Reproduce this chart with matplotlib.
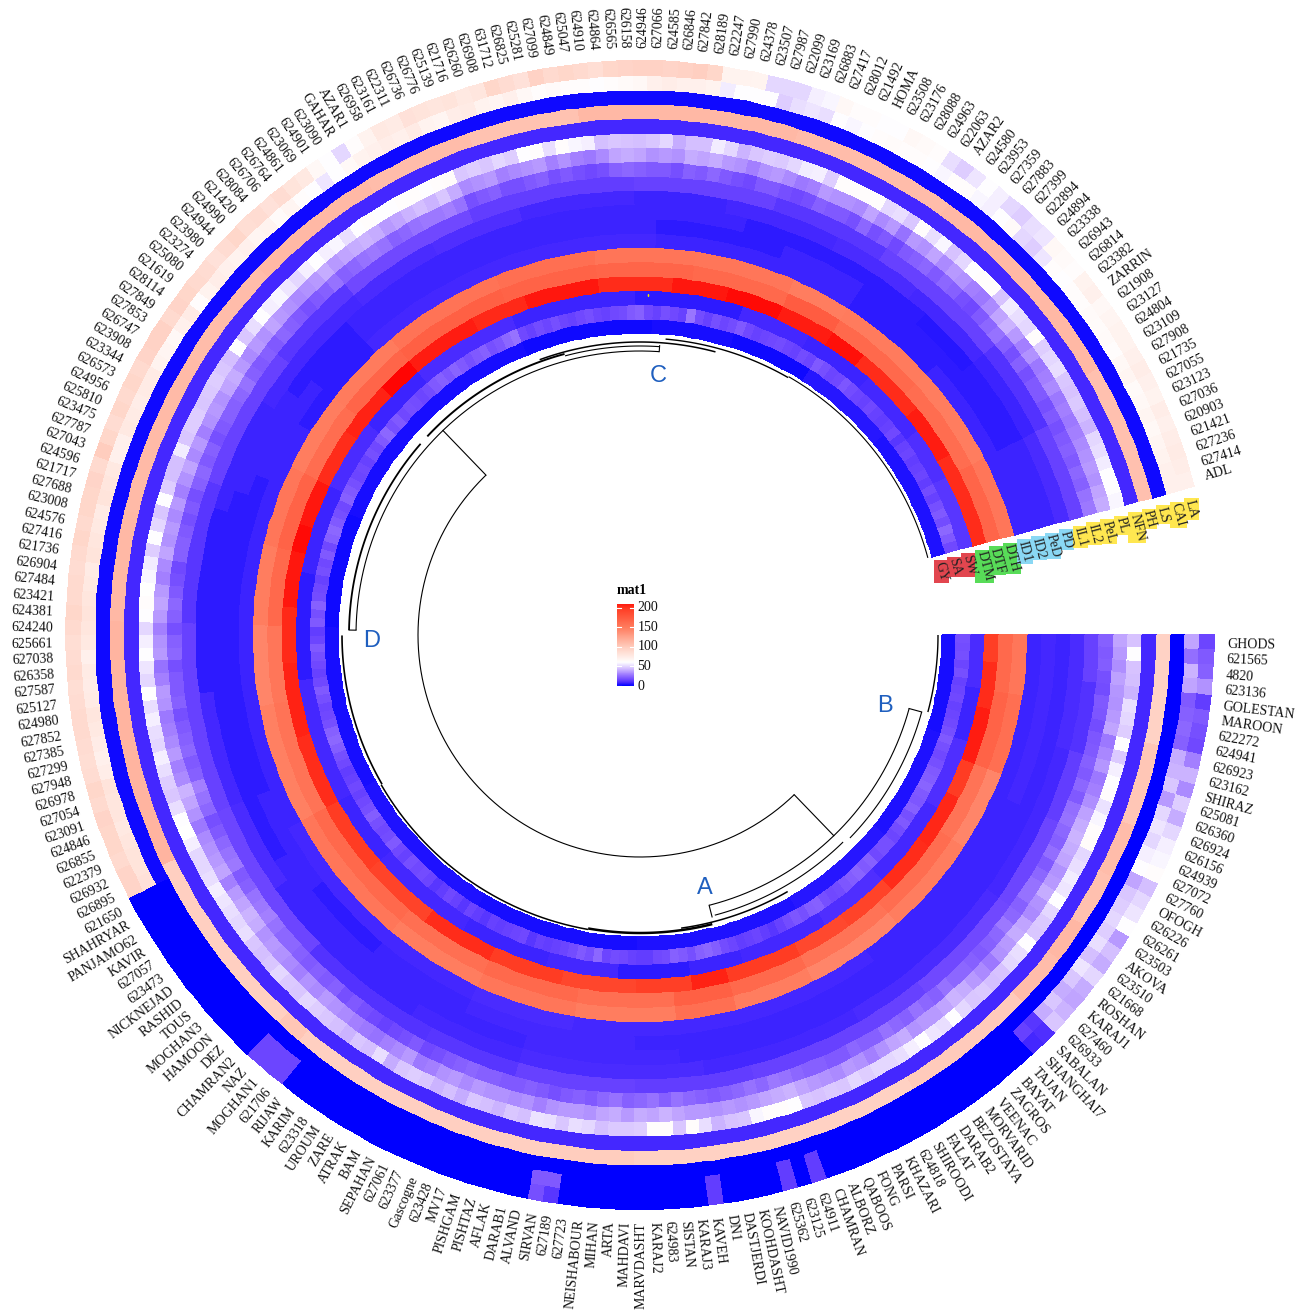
import numpy as np
import matplotlib
matplotlib.use('Agg')
import matplotlib.pyplot as plt
from matplotlib.colors import LinearSegmentedColormap, Normalize
from matplotlib.patches import Rectangle
from matplotlib.transforms import IdentityTransform

plt.rcParams['font.family'] = ['Liberation Serif', 'DejaVu Sans']

genotypes = ['GHODS','621565','4820','623136','GOLESTAN','MAROON','622272','624941','626923','623162',
'SHIRAZ','625081','626360','626924','626156','624939','627072','627760','OFOGH','626226',
'626261','623503','AKOVA','623510','621668','ROSHAN','KARAJ1','627460','626933','SABALAN',
'SHANGHAI7','TAJAN','BAYAT','ZAGROS','VEENAC','MORVARID','BEZOSTAYA','DARAB2','FALAT','SHIROODI',
'624818','KHAZARI','PARSI','FONG','QABOOS','ALBORZ','CHAMRAN','624911','623125','625362',
'NAVID1990','KOOHDASHT','DASTJERDI','DN1','KAVEH','KARAJ3','SISTAN','624983','KARAJ2','MARVDASHT',
'MAHDAVI','ARTA','MIHAN','NEISHABOUR','627723','627189','SIRVAN','ALVAND','DARAB1','AFLAK',
'PISHTAZ','PISHGAM','MV17','623428','Gascogne','623377','627061','SEPAHAN','BAM','ATRAK',
'ZARE','UROUM','623318','KARIM','RIJAW','621706','MOGHAN1','NAZ','CHAMRAN2','DEZ',
'HAMOON','MOGHAN3','TOUS','RASHID','NICKNEJAD','623473','627057','KAVIR','PANJAMO62','SHAHRYAR',
'621650','626895','626932','622379','626855','624846','623091','627054','626978','627948',
'627299','627385','627852','624980','625127','627587','626358','627038','625661','624240',
'624381','623421','627484','626904','621736','627416','624576','623008','627688','621717',
'624596','627043','627787','623475','625810','624956','626573','623344','623908','626747',
'627853','627849','628114','621619','625080','623274','623980','624944','624990','621420',
'628084','626706','626764','624861','623069','624901','623090','GAHAR','AZAR1','626958',
'623161','622311','626736','626776','625139','621716','626260','626908','631712','626825',
'625281','627099','624849','625047','624910','624864','626565','626158','624946','627066',
'624585','626846','627842','628189','622247','627990','624378','623507','627987','622099',
'623169','626883','627417','628012','621492','HOMA','623508','623176','628088','624963',
'622063','AZAR2','624580','623953','627359','627883','627399','622894','624894','623338',
'626943','626814','623382','ZARRIN','621908','623127','624804','623109','627908','621735',
'627055','623123','627036','620903','621421','627236','627414','ADL']

# inner ring to outer ring
GY = [3]*12+[4]*14+[5]*14+[4]*20+[3]*20+[4]*20+[3]*20+[2]*14+[3]*16+[3]*14+[2]*16+[3]*10+[2]*10+[5]*12+[4]*16
SA = [18,17,18,15,18,14,15,16,14,15,16,18,20,18,16,18,20,21,23,20,
19,22,18,20,17,15,18,18,16,22,20,23,21,19,17,16,18,22,21,18,
19,17,14,12,13,15,14,13,15,17,21,24,22,18,20,22,17,16,13,13,
14,16,17,15,24,18,20,17,15,14,13,14,12,16,15,14,13,14,12,13,
15,12,14,16,13,12,15,17,16,18,14,16,20,17,16,18,21,18,16,14,
16,14,13,16,18,21,24,22,18,16,15,18,20,16,14,16,18,20,15,13,
20,18,22,17,16,14,18,16,20,16,22,24,20,18,16,22,20,18,15,16,
14,18,16,20,24,18,20,16,18,17,15,17,20,22,19,23,20,18,20,22,
18,19,24,26,16,14,17,15,18,15,14,16,18,15,14,16,17,20,22,16,
14,18,16,14,27,17,14,18,15,17,20,16,14,15,16,17,15,14,17,15,
20,18,15,16,19,17,15,14,16,14,13,14,16,12,14,15,13,14,15,13,
17,14,18,20,17,24,20,16]
SW = [9]*6+[7]*6+[10]*8+[8]*10+[10]*8+[8]*10+[7]*6+[6]*8+[8]*8+[7]*10+[8]*12+[7]*8+[8]*14+[6]*12+[7]*10+[9]*8+[7]*8+[9]*12+[7]*14+[6]*12+[8]*8+[7]*8+[8]*8+[10]*6+[12]*8
DTM = [198]*3+[205]*5+[210]*6+[200]*4+[207]*6+[205]*6+[195]*6+[190]*6+[200]*8+[208]*4+[197]*6+[192]*8+[200]*8+[205]*8+[195]*8+[200]*8+[205]*8+[208]*8+[206]*6+[212]*6+[216]*3+[212]*5+[205]*6+[208]*6+[218]*4+[210]*8+[206]*6+[212]*8+[205]*8+[212]*6+[216]*6+[210]*6+[214]*4+[205]*8+[210]*6+[205]*10
DTF = [165]*6+[170]*8+[158]*8+[162]*10+[158]*10+[165]*8+[172]*6+[160]*10+[165]*10+[160]*10+[165]*14+[158]*12+[155]*8+[165]*8+[170]*8+[162]*8+[168]*8+[172]*12+[170]*10+[168]*10+[165]*10+[175]*6+[165]*10+[162]*10+[168]*8
DTH = [155]*6+[160]*8+[145]*8+[150]*10+[145]*10+[150]*8+[160]*6+[150]*10+[155]*10+[150]*10+[155]*14+[148]*12+[145]*8+[150]*8+[155]*8+[150]*8+[152]*8+[158]*12+[160]*10+[156]*10+[155]*10+[150]*6+[152]*10+[150]*10+[155]*8
ID1 = [7]*16+[7]*20+[8]*30+[9]*10+[8]*24+[7]*10+[7]*30+[6]*10+[8]*14+[8]*16+[7]*20+[6]*10+[7]*18
ID2 = [8]*16+[7]*14+[7]*30+[8]*16+[7]*10+[6]*8+[7]*10+[6]*14+[6]*16+[7]*10+[6]*6+[7]*16+[7]*14+[6]*12+[7]*8+[6]*10+[6]*10+[7]*8
PeD = [7]*14+[7]*16+[7]*26+[8]*14+[7]*16+[7]*12+[6]*10+[6]*14+[6]*10+[7]*10+[6]*8+[7]*14+[7]*16+[7]*8+[6]*10+[6]*8+[5]*6+[6]*8+[7]*8
PD = [9]*10+[8]*14+[9]*16+[8]*14+[9]*16+[8]*10+[7]*6+[7]*10+[9]*8+[8]*10+[6]*16+[7]*10+[8]*12+[9]*8+[10]*8+[8]*10+[7]*8+[8]*10+[9]*8+[8]*8+[7]*8+[9]*8
IL1 = [14]*4+[11]*6+[13]*6+[15]*8+[16]*10+[14]*16+[13]*10+[14]*10+[12]*8+[11]*12+[15]*14+[14]*16+[12]*12+[14]*12+[12]*8+[16]*12+[13]*14+[14]*12+[12]*10+[14]*12+[11]*8+[14]*8
IL2 = [22,20,21,18,17,20,19,17,19,20,22,20,24,20,25,26,24,22,25,20,
24,26,26,22,24,28,24,22,20,22,24,24,26,22,24,26,22,24,26,22,
22,24,20,20,22,22,24,26,28,24,26,24,22,20,22,24,26,22,26,24,
22,26,24,20,22,20,18,20,22,20,20,22,22,24,22,20,18,16,20,18,
16,14,16,18,20,18,22,20,22,20,22,24,24,26,30,28,26,22,20,28,
26,24,20,18,24,26,30,22,20,24,22,20,18,22,20,20,18,24,22,18,
22,24,20,18,16,22,22,20,18,20,18,22,24,20,22,18,20,22,22,24,
26,22,20,22,20,24,22,20,18,20,22,26,22,24,26,28,26,22,24,26,
28,28,30,26,18,20,22,18,18,20,22,18,20,18,16,18,22,24,22,20,
20,18,22,20,24,20,18,16,20,20,18,16,18,22,20,20,18,24,18,20,
16,20,22,24,20,24,22,18,16,20,24,26,22,18,22,18,20,20,18,20,
18,20,22,20,24,22,26,28]
PeL = [38,36,33,37,35,34,36,38,28,31,35,28,30,33,37,40,42,40,38,34,
36,40,34,32,38,40,36,34,28,32,36,40,42,38,36,36,34,40,38,34,
30,34,36,32,34,36,38,42,40,38,36,34,36,34,36,36,38,42,38,40,
36,40,38,34,36,36,34,30,34,32,34,34,36,32,36,34,30,28,36,32,
30,26,28,30,32,34,36,32,34,30,32,34,36,34,40,42,38,36,30,38,
36,34,32,28,34,38,42,32,30,36,32,30,28,34,36,30,26,36,34,30,
36,38,36,30,32,38,34,36,32,36,30,34,38,32,36,30,34,36,34,38,
40,36,32,36,34,38,36,34,32,34,36,40,36,38,40,42,40,36,38,42,
44,42,46,40,32,34,36,30,32,34,36,30,34,30,28,32,38,40,38,34,
36,34,40,38,40,36,34,30,34,36,32,28,30,36,34,34,32,38,32,36,
26,36,34,38,32,36,34,30,28,32,38,42,36,30,34,28,30,32,28,30,
28,30,32,34,36,34,38,40]
PL = [45,60,45,44,42,52,50,48,60,47,56,60,62,53,58,62,63,50,52,55,
54,60,50,47,46,60,52,50,45,44,47,46,50,60,52,54,60,56,52,50,
50,48,50,46,47,45,46,60,62,62,58,46,45,42,52,62,46,62,62,48,
47,47,44,50,52,46,52,53,44,46,42,44,46,40,44,42,46,48,46,40,
52,44,46,42,44,46,48,50,46,47,50,46,44,46,52,50,52,54,56,52,
50,50,56,61,60,52,46,48,52,56,50,52,56,52,61,50,54,60,56,50,
60,62,61,58,55,48,60,50,46,60,48,44,44,55,46,48,48,46,47,48,
46,44,60,46,52,60,56,58,54,50,56,60,56,58,52,60,62,60,60,62,
62,60,62,63,46,48,46,50,48,60,62,52,62,58,56,44,46,45,44,46,
50,40,44,44,55,50,42,46,48,47,50,55,56,48,62,62,62,62,50,52,
46,62,52,58,45,50,60,62,62,45,55,52,50,62,48,50,52,46,45,47,
44,42,50,52,55,60,60,58]
NFN = [8]*228
PH = [96]*8+[104]*6+[110]*4+[108]*4+[114]*3+[110]*4+[102]*10+[97]*21+[100]*6+[98]*20+[104]*2+[98]*14+[116]*18+[113]*8+[112]*12+[110]*8+[113]*10+[110]*8+[107]*8+[113]*16+[110]*12+[113]*16+[108]*10
LS = [0]*101+[2]*127
CAI = [38,25,42,38,20,22,24,22,40,42,46,36,50,54,50,56,60,38,46,48,
50,48,52,44,54,46,40,46,40,12,14]+[0]*16+[13,0,13]+[0]*4+[13]+[0]*10+[20,20]+[0]*18+[15,15,15]+[0]*13+[
84,82,82,80,78,80,80,82,74,72,75,78,80,76,75,76,72,78,80,
82,80,78,76,82,80,78,76,82,80,78,72,72,78,76,74,76,76,70,68,
66,72,76,62,70,74,72,70,72,68,70,64,68,62,60,54,60,65,70,72,
74,72,76,70,68,74,76,70,68,72,66,62,64,62,62,60,62,64,66,72,
74,72,72,70,55,60,60,60,48,52,54,52,60,58,60,62,63,62,62,60,
58,62,62,58,56,60,64,50,48,54,62,60,62,62,64,63,64,62,66,68,
64,66,68,66,68,70,72,72]
LA = [15,20,22,34,13,20,18,16,30,42,32,48,40,50,56,58,62,44,50,54,
60,36,44,40,50,40,38,42,46,10,8]+[0]*16+[13,0,13]+[0]*4+[13]+[0]*10+[12,18]+[0]*18+[15,15,15]+[0]*13+[
94,94,90,92,92,94,90,92,88,86,88,90,90,88,86,90,88,86,90,
92,90,90,88,90,92,90,92,92,94,90,100,92,88,92,90,92,90,94,96,
96,90,94,92,90,88,84,88,92,86,88,84,88,82,78,66,60,50,62,70,
78,76,84,82,80,82,78,80,92,88,84,96,90,92,90,86,92,94,96,96,
94,96,98,92,70,70,69,50,50,50,56,58,66,62,62,60,60,66,64,62,
52,48,54,60,56,50,48,52,54,66,64,62,70,72,66,68,70,70,72,74,
72,70,74,72,74,76,74,72]

track_names = ['GY','SA','SW','DTM','DTF','DTH','ID1','ID2','PeD','PD','IL1','IL2','PeL','PL','NFN','PH','LS','CAI','LA']
track_groups = [0,0,0,1,1,1,2,2,2,2,3,3,3,3,3,3,3,3,3]
tracks = [GY,SA,SW,DTM,DTF,DTH,ID1,ID2,PeD,PD,IL1,IL2,PeL,PL,NFN,PH,LS,CAI,LA]
group_colors = ['#e2464f','#58dc58','#8ad8f4','#ffe750']

# dendrogram: height (as radius), from leaf, to leaf, line width
tree_h = [222,279,284,298,292,290,296,298,299,298,291,291,289,293,297,298]
tree_a = [30.4,10.1,119.6,0,10.1,30.1,39.7,50.2,66.1,99.1,119.6,147.4,168.5,165.2,181.7,198.2]
tree_b = [149.4,50,181,9.9,29.1,49.6,54.2,66.1,99.1,118.9,146.1,168.5,181,188.3,198.2,228]
tree_w = [.8,.8,.8,1,.8,.8,1.1,1.8,1.1,1.2,1.3,1.4,.8,1.1,1,.8]
# radial joins: leaf, inner height, outer height
join_x = [30.4,149.4,10.1,50,119.6,181]
join_lo = [222,222,279,279,284,284]
join_hi = [279,284,292,291,291,290]

legend_ticks = [0,50,100,150,200]
legend_top = 210

n = len(genotypes)
step = np.deg2rad(345.0/n)

nodes = [(0,(0,0,255)),(8,(70,40,255)),(15,(110,70,255)),(30,(165,130,255)),(45,(215,195,255)),(60,(255,255,255)),
(100,(255,205,190)),(150,(255,125,95)),(200,(255,60,35)),(220,(255,0,0))]
cmap = LinearSegmentedColormap.from_list('mat1',[(v/220.0,tuple(c/255.0 for c in col)) for v,col in nodes])
norm = Normalize(0,220)

fig = plt.figure(figsize=(13.09,13.14),dpi=100)
ax = fig.add_axes([0,39/1314,1280/1309,1280/1314],projection='polar')
ax.set_theta_zero_location('E')
ax.set_theta_direction(-1)

r_in = 302.0
r_w = (574.0-302.0)/len(tracks)
mat = np.array(tracks,dtype=float)
theta_e = np.arange(n+1)*step
r_e = r_in+np.arange(len(tracks)+1)*r_w
ax.pcolormesh(theta_e,r_e,mat,cmap=cmap,norm=norm,shading='flat',edgecolors='face',linewidth=0.15)

# yellow speck in the SW ring
ax.plot([np.deg2rad(271.3)],[340],marker='s',ms=1.2,color='#e6e600',mew=0)

for h,a,b,w in zip(tree_h,tree_a,tree_b,tree_w):
	t = np.linspace(a,b,int(b-a)*4+2)*step
	ax.plot(t,np.full(t.shape,h),color='black',lw=w,solid_capstyle='butt')
for x,lo,hi in zip(join_x,join_lo,join_hi):
	ax.plot([x*step,x*step],[lo,hi],color='black',lw=.8)

for i,name in enumerate(genotypes):
	a = (i+.5)*345.0/n
	if np.cos(np.deg2rad(a))>=0:
		rot,ha = -a,'left'
	else:
		rot,ha = 180-a,'right'
	ax.text((i+.5)*step,587,name,rotation=rot,ha=ha,va='center_baseline',rotation_mode='anchor',fontsize=10,color='#111111')

ax.set_xlim(0,2*np.pi)
ax.set_ylim(0,640)
ax.axis('off')

renderer = fig.canvas.get_renderer()
for j,name in enumerate(track_names):
	t = ax.text(np.deg2rad(346.2),r_in+(j+.5)*r_w,name,rotation=-75,ha='left',va='center_baseline',rotation_mode='anchor',fontsize=10,color='#222222',zorder=6)
	bb = t.get_window_extent(renderer)
	ax.add_patch(Rectangle((bb.x0+1,bb.y0),bb.width-2,bb.height,transform=IdentityTransform(),facecolor=group_colors[track_groups[j]],edgecolor='none',clip_on=False,zorder=5))
ax.set_xlim(0,2*np.pi)
ax.set_ylim(0,640)

for s,x,y in zip(['A','B','C','D'],[705,885,658,372],[888,706,376,641]):
	fig.text(x/1309,1-y/1314,s,color='#1f5fbf',fontsize=17,ha='center',va='center',family='Liberation Sans')

# legend
cax = fig.add_axes([617/1309,1-686/1314,17/1309,82/1314])
grad = np.linspace(0,legend_top,120).reshape(-1,1)
cax.imshow(grad,origin='lower',aspect='auto',cmap=cmap,norm=norm,extent=[0,1,0,legend_top])
for v in legend_ticks:
	cax.plot([0,.22],[v,v],color='white',lw=.8)
	cax.plot([.78,1],[v,v],color='white',lw=.8)
	cax.text(1.2,v,str(v),ha='left',va='center',fontsize=10,color='#111111',clip_on=False)
cax.set_xlim(0,1)
cax.set_ylim(0,legend_top)
cax.axis('off')
fig.text(617/1309,1-591/1314,'mat1',fontsize=10,fontweight='bold',ha='left',va='center')

fig.savefig('out.png',dpi=100)
